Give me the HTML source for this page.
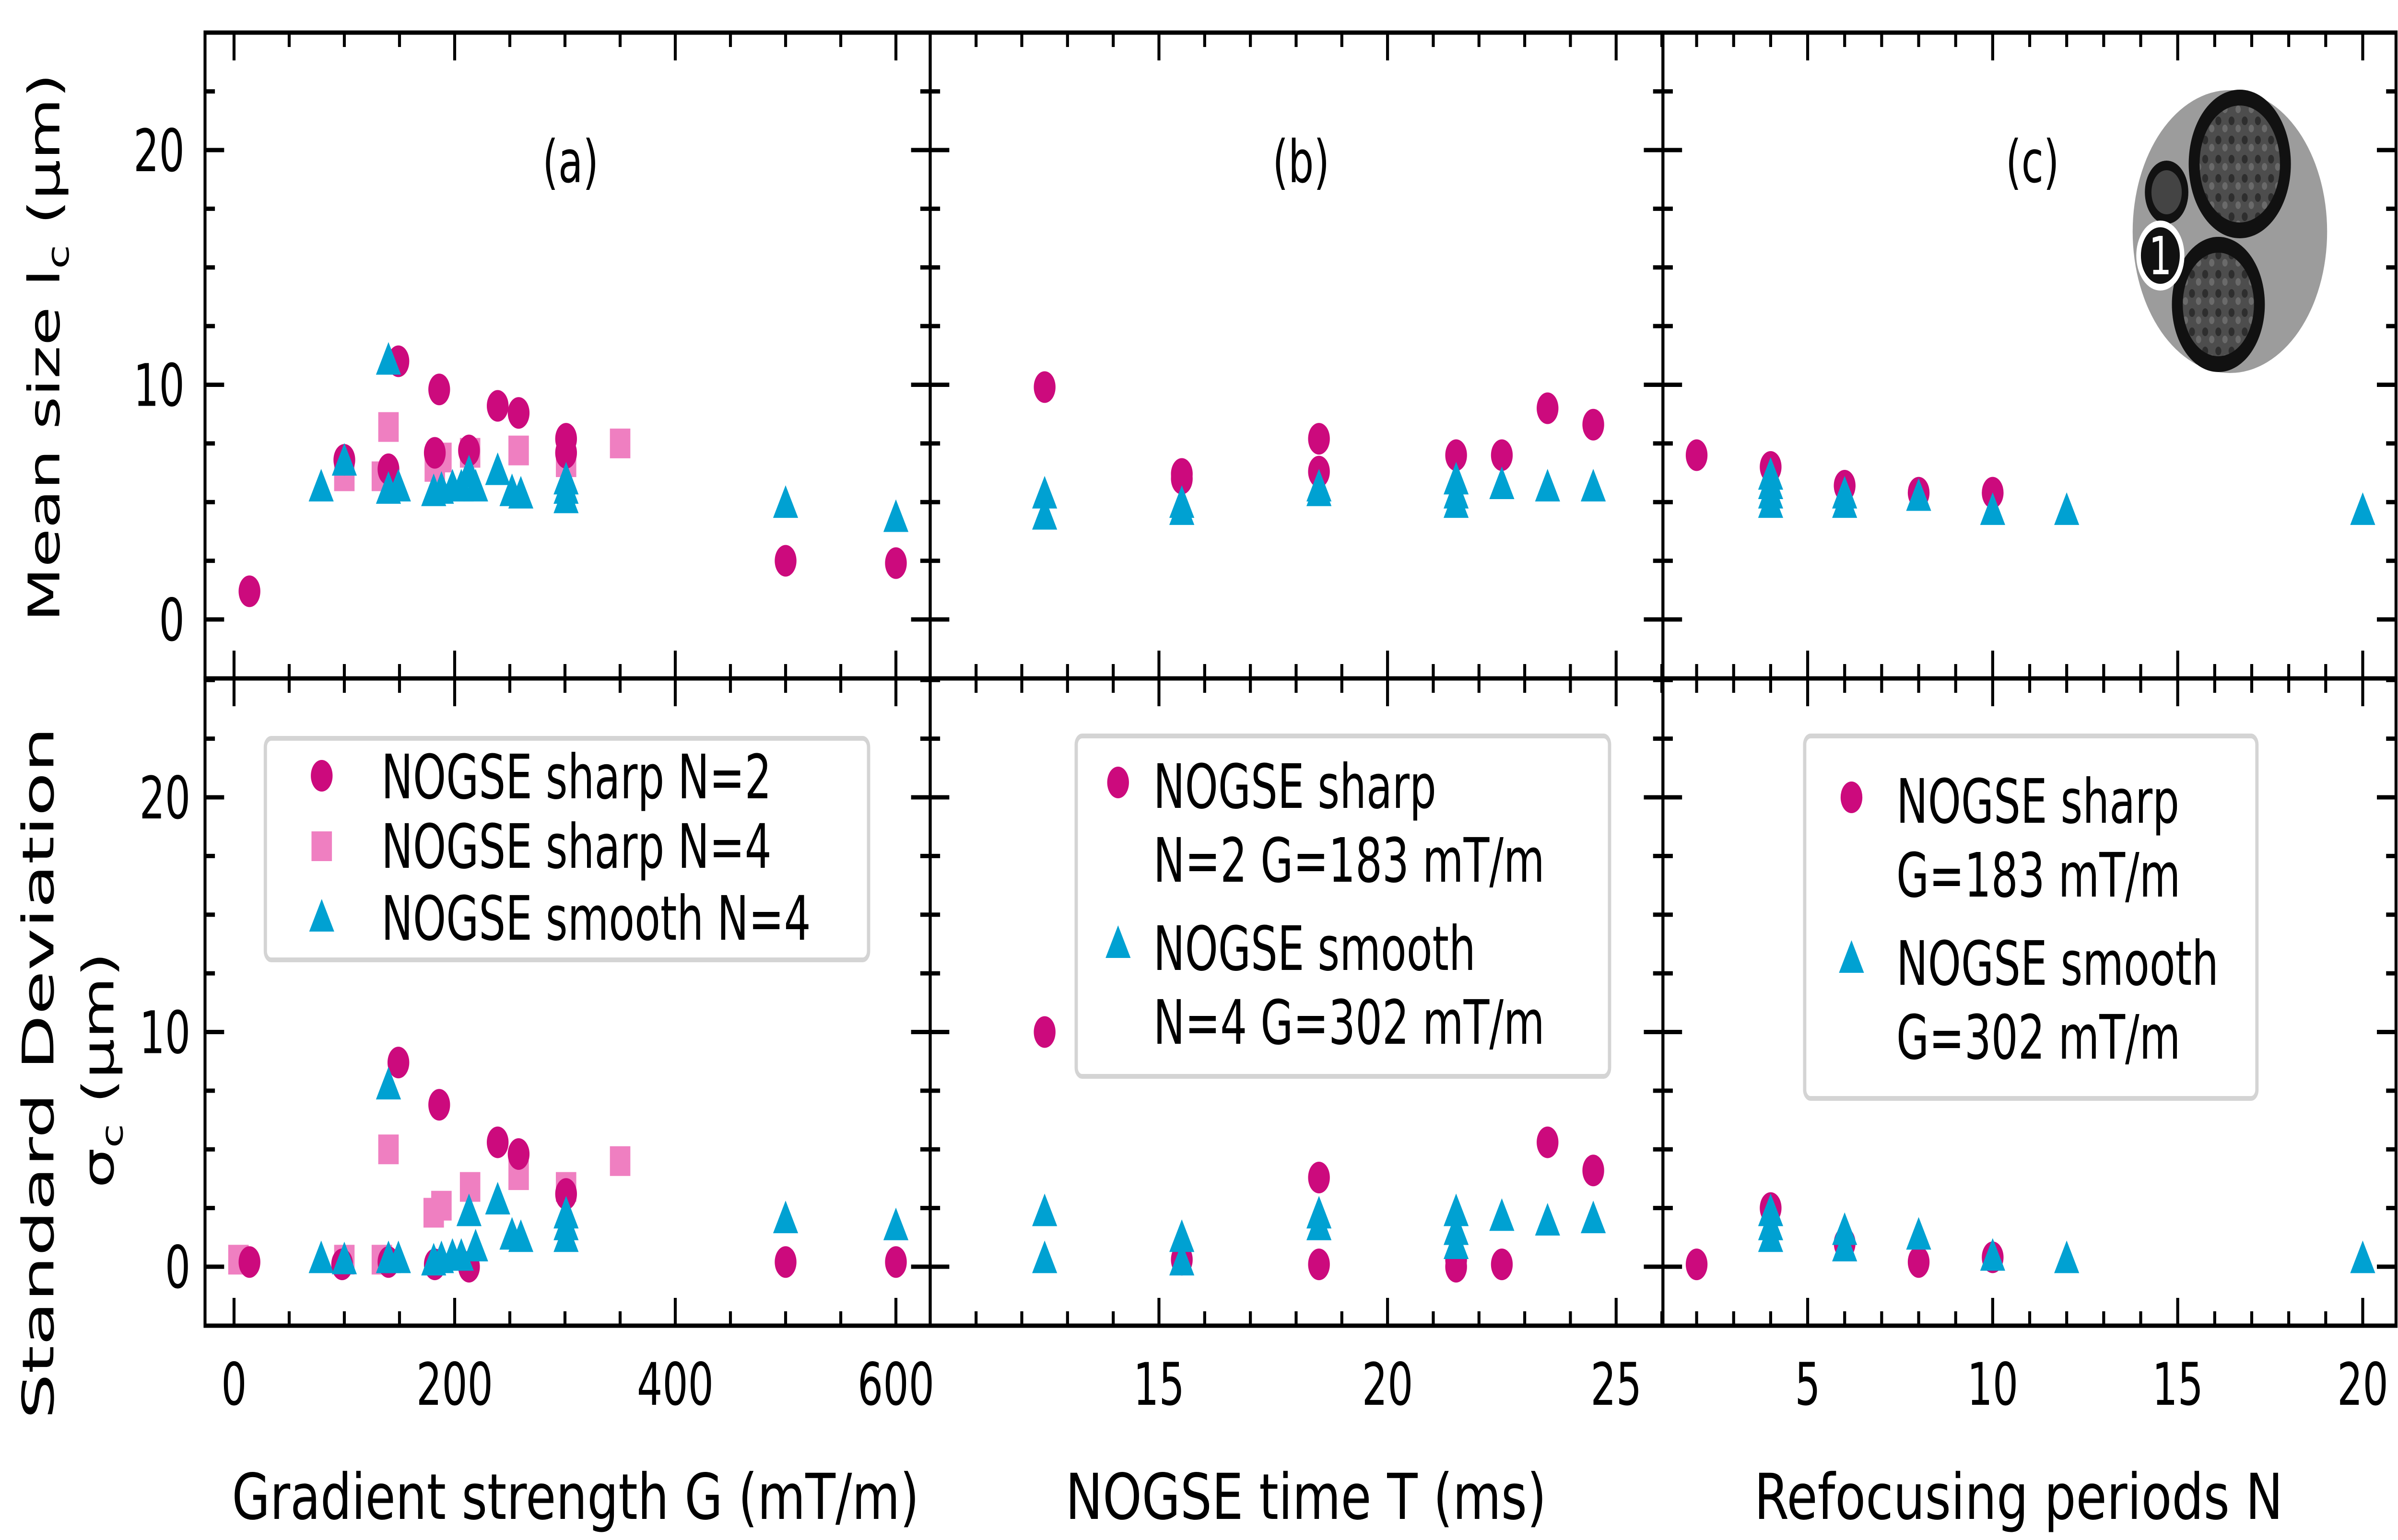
<!DOCTYPE html>
<html><head><meta charset="utf-8"><style>
html,body{margin:0;padding:0;background:#fff;overflow:hidden;width:100%;height:100%}
svg{display:block;width:100vw;height:100vh;font-family:"DejaVu Sans","Liberation Sans",sans-serif}
</style></head><body>
<svg id="fig" viewBox="0 0 7275 3212" preserveAspectRatio="none" xmlns="http://www.w3.org/2000/svg">
<defs>
  <pattern id="tex" width="40" height="40" patternUnits="userSpaceOnUse">
    <rect width="40" height="40" fill="#4d4d4d"/>
    <circle cx="10" cy="12" r="9" fill="#2e2e2e"/>
    <circle cx="30" cy="28" r="8" fill="#6a6a6a"/>
  </pattern>
</defs>
<g id="marks"></g>
<g id="axes"></g>
<g>
  <circle cx="6765" cy="483" r="295" fill="#9c9c9c"/>
  <circle cx="6795" cy="342" r="155" fill="#111"/>
  <circle cx="6795" cy="342" r="122" fill="url(#tex)"/>
  <circle cx="6730" cy="635" r="141" fill="#111"/>
  <circle cx="6730" cy="635" r="108" fill="url(#tex)"/>
  <circle cx="6573" cy="401" r="66" fill="#111"/>
  <circle cx="6573" cy="401" r="46" fill="#444"/>
  <circle cx="6554" cy="533" r="66" fill="#111" stroke="#fff" stroke-width="14"/>
  <text x="6554" y="572" font-size="110" fill="#fff" text-anchor="middle">1</text>
</g>
<g id="legends"></g>
<g id="labels" font-size="122" fill="#000">
  <text x="1731" y="380" text-anchor="middle">(a)</text>
  <text x="3947" y="380" text-anchor="middle">(b)</text>
  <text x="6166" y="380" text-anchor="middle">(c)</text>
  <text x="1746" y="3168" text-anchor="middle" font-size="132" textLength="2085" lengthAdjust="spacingAndGlyphs">Gradient strength G (mT/m)</text>
  <text x="3962" y="3168" text-anchor="middle" font-size="132" textLength="1459" lengthAdjust="spacingAndGlyphs">NOGSE time T (ms)</text>
  <text x="6124" y="3168" text-anchor="middle" font-size="132" textLength="1604" lengthAdjust="spacingAndGlyphs">Refocusing periods N</text>
  <text transform="translate(180,725) rotate(-90)" text-anchor="middle" font-size="132">Mean size l<tspan font-size="92" dy="28">c</tspan><tspan dy="-28"> (μm)</tspan></text>
  <text transform="translate(162,2238) rotate(-90)" text-anchor="middle" font-size="132" textLength="1444" lengthAdjust="spacingAndGlyphs">Standard Deviation</text>
  <text transform="translate(344,2232) rotate(-90)" text-anchor="middle" font-size="132">σ<tspan font-size="92" dy="28">c</tspan><tspan dy="-28"> (μm)</tspan></text>
</g>
</svg>
<script>
// ---------- data ----------
const aTopSharp2G=[14,100,140,149,186,182,213,239,258,301,301,500,600];
const aTopSharp2V=[1.2,6.8,6.4,11.0,9.8,7.1,7.2,9.1,8.8,7.7,7.1,2.5,2.4];
const aTopSharp4G=[100,134,140,182,188,214,258,301,350];
const aTopSharp4V=[6.1,6.1,8.2,6.5,6.9,7.1,7.2,6.7,7.5];
const aTopSmoothG=[79,100,140,140,149,181,188,198,206,213,219,239,252,260,301,301,301,500,600];
const aTopSmoothV=[5.6,6.7,11.0,5.5,5.6,5.4,5.5,5.6,5.6,6.2,5.6,6.3,5.4,5.3,5.9,5.1,5.5,4.9,4.3];
const aBotSharp2G=[14,98,140,149,186,182,213,239,258,301,500,600];
const aBotSharp2V=[0.2,0.1,0.2,8.7,6.9,0.1,0.0,5.3,4.8,3.1,0.2,0.2];
const aBotSharp4G=[4,100,134,140,181,188,214,258,301,350];
const aBotSharp4V=[0.3,0.3,0.3,5.0,2.3,2.6,3.4,3.9,3.4,4.5];
const aBotSmoothG=[79,100,140,140,149,181,188,198,206,213,219,239,252,260,301,301,301,500,600];
const aBotSmoothV=[0.3,0.25,7.7,0.3,0.3,0.2,0.3,0.4,0.4,2.3,0.8,2.8,1.3,1.2,2.2,1.7,1.2,2.0,1.7];

const bTopSharpT=[12.5,15.5,15.5,18.5,18.5,21.5,22.5,23.5,24.5];
const bTopSharpV=[9.9,6.2,6.0,7.7,6.3,7.0,7.0,9.0,8.3];
const bTopSmoothT=[12.5,12.5,15.5,15.5,18.5,18.5,21.5,21.5,21.5,22.5,23.5,24.5];
const bTopSmoothV=[5.3,4.4,4.9,4.6,5.6,5.4,5.9,5.3,4.9,5.7,5.6,5.6];
const bBotSharpT=[12.5,15.5,18.5,18.5,21.5,21.5,22.5,23.5,24.5];
const bBotSharpV=[10.0,0.3,3.8,0.1,0.0,0.3,0.1,5.3,4.1];
const bBotSmoothT=[12.5,12.5,15.5,15.5,18.5,18.5,21.5,21.5,21.5,22.5,23.5,24.5];
const bBotSmoothV=[2.3,0.3,1.2,0.2,2.2,1.7,2.3,1.5,0.9,2.1,1.9,2.0];

const cTopSharpN=[2,4,6,8,10];
const cTopSharpV=[7.0,6.5,5.7,5.4,5.4];
const cTopSmoothN=[4,4,4,4,6,6,8,10,12,20];
const cTopSmoothV=[6.1,5.7,5.3,4.9,5.3,4.9,5.2,4.6,4.6,4.6];
const cBotSharpN=[2,4,6,8,10];
const cBotSharpV=[0.1,2.5,1.0,0.2,0.4];
const cBotSmoothN=[4,4,4,6,6,8,10,12,20];
const cBotSmoothV=[2.3,1.7,1.2,1.5,0.8,1.3,0.4,0.3,0.3];

const xTicksA=[0,200,400,600];
const xTicksB=[15,20,25];
const xTicksC=[5,10,15,20];
const yTicks=[0,10,20];

// ---------- scales ----------
const NS="http://www.w3.org/2000/svg";
const L=622,R=7269,T=68,MID=1415,B=2765,AB=2822,BC=5045;
const xA=v=>710+(v-0)*(2718-710)/600;
const xB=v=>3516+(v-15)*(4903-3516)/10;
const xC=v=>5484+(v-5)*(7168-5484)/15;
const yTop=v=>1292-v*(1292-313)/20;
const yBot=v=>2642-v*(2642-1663)/20;
const MAG="#cc0a7d",PINK="#ef7fc1",CYAN="#00a1d2";
const marks=document.getElementById('marks');
const axes=document.getElementById('axes');
function mk(tag,attrs,parent){const e=document.createElementNS(NS,tag);for(const k in attrs)e.setAttribute(k,attrs[k]);parent.appendChild(e);return e;}

function circle(x,y,parent,name){const e=mk('circle',{cx:x,cy:y,r:33,fill:MAG},parent);

return e;}
function square(x,y,parent,name){const e=mk('rect',{x:x-31,y:y-31,width:62,height:62,fill:PINK},parent);

return e;}
function tri(x,y,parent,name){const e=mk('polygon',{points:`${x},${y-40} ${x-38},${y+28} ${x+38},${y+28}`,fill:CYAN},parent);

return e;}

function series(xs,vs,xf,yf,fn,name){for(let i=0;i<xs.length;i++)fn(xf(xs[i]),yf(vs[i]),marks,name);}
series(aTopSharp4G,aTopSharp4V,xA,yTop,square,'point-a-mean-sharp-n4');
series(aTopSharp2G,aTopSharp2V,xA,yTop,circle,'point-a-mean-sharp-n2');
series(aTopSmoothG,aTopSmoothV,xA,yTop,tri,'point-a-mean-smooth-n4');
series(aBotSharp4G,aBotSharp4V,xA,yBot,square,'point-a-std-sharp-n4');
series(aBotSharp2G,aBotSharp2V,xA,yBot,circle,'point-a-std-sharp-n2');
series(aBotSmoothG,aBotSmoothV,xA,yBot,tri,'point-a-std-smooth-n4');
series(bTopSharpT,bTopSharpV,xB,yTop,circle,'point-b-mean-sharp');
series(bTopSmoothT,bTopSmoothV,xB,yTop,tri,'point-b-mean-smooth');
series(bBotSharpT,bBotSharpV,xB,yBot,circle,'point-b-std-sharp');
series(bBotSmoothT,bBotSmoothV,xB,yBot,tri,'point-b-std-smooth');
series(cTopSharpN,cTopSharpV,xC,yTop,circle,'point-c-mean-sharp');
series(cTopSmoothN,cTopSmoothV,xC,yTop,tri,'point-c-mean-smooth');
series(cBotSharpN,cBotSharpV,xC,yBot,circle,'point-c-std-sharp');
series(cBotSmoothN,cBotSmoothV,xC,yBot,tri,'point-c-std-smooth');

// ---------- axes ----------
const SW=9,MAJ=58,MIN=30;
function line(x1,y1,x2,y2,w){mk('line',{x1,y1,x2,y2,stroke:'#000','stroke-width':w,'stroke-linecap':'butt'},axes);}
function label(x,y,txt,anchor,name){const e=mk('text',{x,y,'font-size':122,'text-anchor':anchor},axes);e.textContent=txt;

}
const panels=[[L,AB],[AB,BC],[BC,R]];
for(const [x0,x1] of panels){for(const [y0,y1] of [[T,MID],[MID,B]]){
 const r=mk('rect',{x:x0,y:y0,width:x1-x0,height:y1-y0,fill:'none',stroke:'#000','stroke-width':SW},axes);
 
 
 const yf=(y0===T)?yTop:yBot;
 for(let v=-2.5;v<=25;v+=2.5){const y=yf(v);if(y<y0+2||y>y1-2)continue;const len=(v%10===0)?MAJ:MIN;
  line(x0,y,x0+len,y,SW);line(x1,y,x1-len,y,SW);}
}}
function xticks(xf,lo,hi,step,majors,x0,x1){for(let v=lo;v<=hi+1e-6;v+=step){const x=xf(v);if(x<x0+3||x>x1-3)continue;
 const len=majors.some(m=>Math.abs(m-v)<1e-6)?MAJ:MIN;
 for(const y of [T,MID,B]){ if(y!==B)line(x,y,x,y+len,SW); if(y!==T)line(x,y,x,y-len,SW);} }}
xticks(xA,0,600,50,[0,200,400,600],L,AB);
xticks(xB,10,26,1,[10,15,20,25],AB,BC);
xticks(xC,1,21,1,[5,10,15,20],BC,R);
for(const v of xTicksA)label(xA(v),2930,String(v),'middle','x-tick-label-a');
for(const v of xTicksB)label(xB(v),2930,String(v),'middle','x-tick-label-b');
for(const v of xTicksC)label(xC(v),2930,String(v),'middle','x-tick-label-c');
for(const v of yTicks){label(560,yTop(v)+44,String(v),'end','y-tick-label-top');label(578,yBot(v)+44,String(v),'end','y-tick-label-bottom');}

// ---------- legends ----------
const lg=document.getElementById('legends');
function box(x,y,w,h,name){const e=mk('rect',{x,y,width:w,height:h,rx:18,fill:'#fff','fill-opacity':0.85,stroke:'#d4d4d4','stroke-width':10},lg);

}
function ltext(x,y,t,name){const e=mk('text',{x,y,'font-size':128},lg);e.textContent=t;

}
box(805,1540,1830,462,'legend-a');
circle(976,1618,lg,'legend-marker-sharp-n2');ltext(1157,1665,'NOGSE sharp N=2','legend-entry-sharp-n2');
square(976,1765,lg,'legend-marker-sharp-n4');ltext(1157,1810,'NOGSE sharp N=4','legend-entry-sharp-n4');
tri(976,1915,lg,'legend-marker-smooth-n4');ltext(1157,1960,'NOGSE smooth N=4','legend-entry-smooth-n4');
box(3265,1535,1618,710,'legend-b');
circle(3392,1632,lg,'legend-marker-b-sharp');ltext(3499,1685,'NOGSE sharp','legend-entry-b-sharp');
ltext(3499,1839,'N=2 G=183 mT/m','legend-entry-b-sharp-line2');
tri(3392,1970,lg,'legend-marker-b-smooth');ltext(3499,2023,'NOGSE smooth','legend-entry-b-smooth');
ltext(3499,2177,'N=4 G=302 mT/m','legend-entry-b-smooth-line2');
box(5475,1535,1372,756,'legend-c');
circle(5617,1663,lg,'legend-marker-c-sharp');ltext(5753,1716,'NOGSE sharp','legend-entry-c-sharp');
ltext(5753,1870,'G=183 mT/m','legend-entry-c-sharp-line2');
tri(5617,2001,lg,'legend-marker-c-smooth');ltext(5753,2054,'NOGSE smooth','legend-entry-c-smooth');
ltext(5753,2208,'G=302 mT/m','legend-entry-c-smooth-line2');
</script>
</body></html>
